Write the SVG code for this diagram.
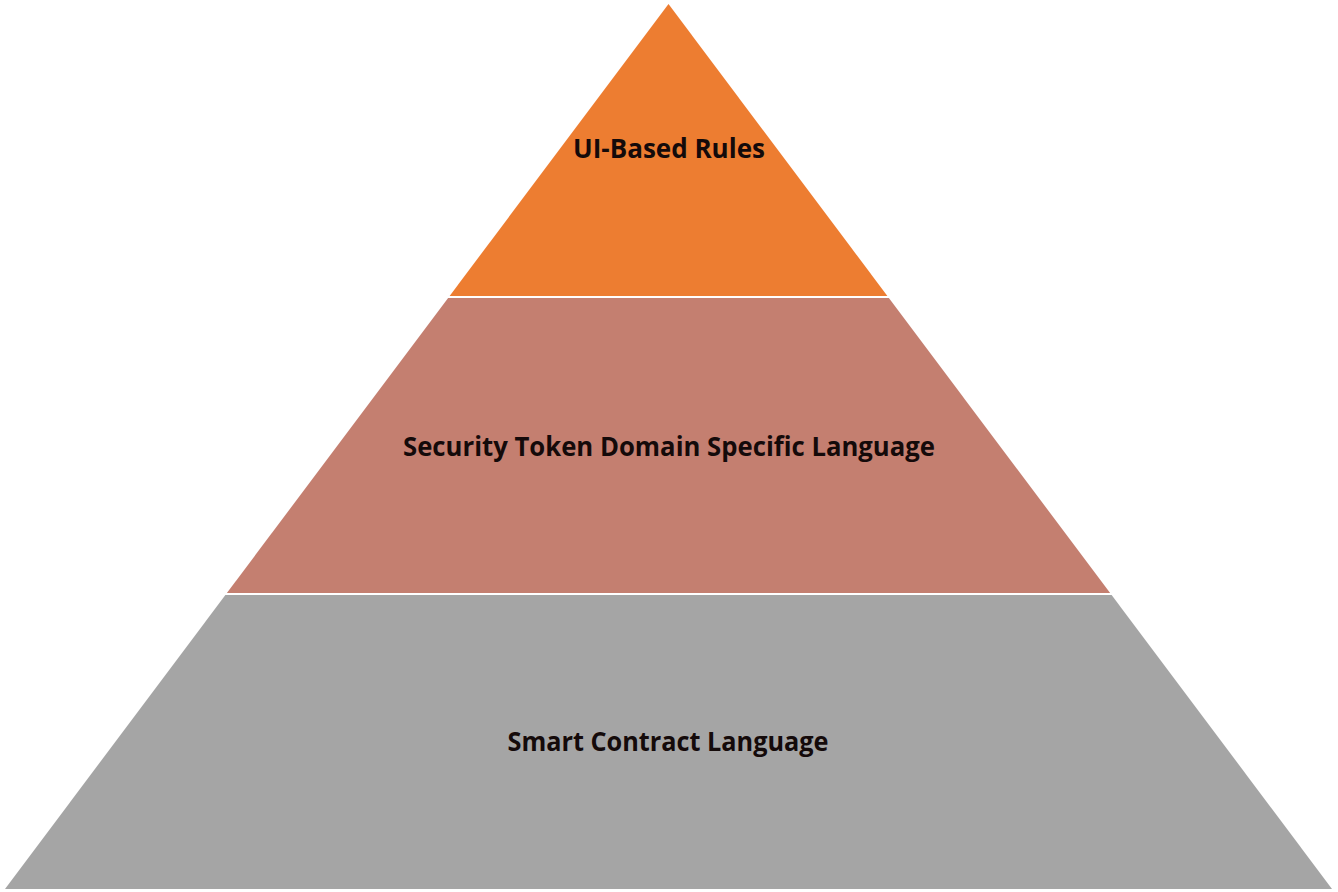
<svg xmlns="http://www.w3.org/2000/svg" width="1338" height="892" viewBox="0 0 1338 892">
  <style>
    .lbl { font-family: "Open Sans", "Liberation Sans", sans-serif; font-weight: 700; font-size: 26px; fill: #140a0a; text-anchor: middle; }
  </style>
  <rect x="0" y="0" width="1338" height="892" fill="#ffffff"/>
  <g id="tier-top">
    <polygon points="668.5,4 887.4,296 449.6,296" fill="#ED7D31"/>
    <text class="lbl" x="669" y="158" textLength="192" lengthAdjust="spacingAndGlyphs">UI-Based Rules</text>
  </g>
  <g id="tier-middle">
    <polygon points="448.1,298 888.9,298 1110.1,593 226.9,593" fill="#C47F70"/>
    <text class="lbl" x="669" y="456" textLength="532" lengthAdjust="spacingAndGlyphs">Security Token Domain Specific Language</text>
  </g>
  <g id="tier-bottom">
    <polygon points="225.4,595 1111.6,595 1332,889 5,889" fill="#A5A5A5"/>
    <text class="lbl" x="668" y="751" textLength="321" lengthAdjust="spacingAndGlyphs">Smart Contract Language</text>
  </g>
</svg>
